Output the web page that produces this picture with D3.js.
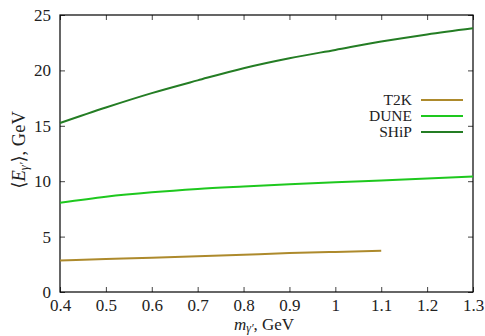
<!DOCTYPE html>
<html>
<head>
<meta charset="utf-8">
<script src="https://cdn.jsdelivr.net/npm/d3@7"></script>
<style>
  body { margin: 0; background: #fff; }
  svg { display: block; }
</style>
</head>
<body>
<svg id="chart" width="485" height="336"></svg>
<script>
// Mean dark-photon energy vs mass for three experiments
const massT2K  = [0.4, 0.5, 0.6, 0.7, 0.8, 0.9, 1.0, 1.1];
const energyT2K = [2.85, 2.98, 3.1, 3.23, 3.37, 3.51, 3.62, 3.72];

const massDUNE  = [0.4, 0.5, 0.6, 0.7, 0.8, 0.9, 1.0, 1.1, 1.2, 1.3];
const energyDUNE = [8.05, 8.6, 9.0, 9.3, 9.52, 9.72, 9.9, 10.07, 10.25, 10.42];

const massSHiP  = [0.4, 0.5, 0.6, 0.7, 0.8, 0.9, 1.0, 1.1, 1.2, 1.3];
const energySHiP = [15.25, 16.65, 17.95, 19.1, 20.2, 21.1, 21.85, 22.6, 23.25, 23.8];

const xTicks = [0.4, 0.5, 0.6, 0.7, 0.8, 0.9, 1.0, 1.1, 1.2, 1.3];
const xTickLabels = ["0.4", "0.5", "0.6", "0.7", "0.8", "0.9", "1", "1.1", "1.2", "1.3"];
const yTicks = [0, 5, 10, 15, 20, 25];

const seriesNames = ["T2K", "DUNE", "SHiP"];
const seriesColors = ["#ad8a2c", "#1ec81e", "#247d24"];

const series = [
  { name: seriesNames[0], color: seriesColors[0], xs: massT2K, ys: energyT2K },
  { name: seriesNames[1], color: seriesColors[1], xs: massDUNE, ys: energyDUNE },
  { name: seriesNames[2], color: seriesColors[2], xs: massSHiP, ys: energySHiP }
];

const FONT = '"Liberation Serif", "DejaVu Serif", serif';
const W = 485, H = 336;
const margin = { left: 60, right: 12, top: 15, bottom: 44 };
const svg = d3.select("#chart");

const x = d3.scaleLinear().domain([0.4, 1.3]).range([margin.left, W - margin.right]);
const y = d3.scaleLinear().domain([0, 25]).range([H - margin.bottom, margin.top]);

const tickLen = 5;
const g = svg.append("g");

// Axes with inward ticks on all four sides
const fmtX = (d, i) => xTickLabels[i];
g.append("g").attr("transform", `translate(0,${y(0)})`)
  .call(d3.axisBottom(x).tickValues(xTicks).tickFormat(fmtX).tickSizeInner(-tickLen).tickSizeOuter(0).tickPadding(7));
g.append("g").attr("transform", `translate(0,${y(25)})`)
  .call(d3.axisTop(x).tickValues(xTicks).tickFormat("").tickSizeInner(-tickLen).tickSizeOuter(0));
g.append("g").attr("transform", `translate(${x(0.4)},0)`)
  .call(d3.axisLeft(y).tickValues(yTicks).tickFormat(d3.format("d")).tickSizeInner(-tickLen).tickSizeOuter(0).tickPadding(9));
g.append("g").attr("transform", `translate(${x(1.3)},0)`)
  .call(d3.axisRight(y).tickValues(yTicks).tickFormat("").tickSizeInner(-tickLen).tickSizeOuter(0));

g.selectAll(".domain").remove();
g.selectAll(".tick line").attr("stroke", "#444").attr("stroke-width", 1);
g.selectAll(".tick text").attr("font-size", 17).style("font-family", FONT).attr("fill", "#222");

// Frame
svg.append("rect")
  .attr("x", x(0.4)).attr("y", y(25))
  .attr("width", x(1.3) - x(0.4)).attr("height", y(0) - y(25))
  .attr("fill", "none").attr("stroke", "#000").attr("stroke-width", 1.2);

// Curves
const line = d3.line().curve(d3.curveMonotoneX);
series.forEach(s => {
  svg.append("path")
    .attr("d", line(s.xs.map((v, i) => [x(v), y(s.ys[i])])))
    .attr("fill", "none")
    .attr("stroke", s.color)
    .attr("stroke-width", 2);
});

// Legend
const legY = [100, 116, 132];
series.forEach((s, i) => {
  svg.append("text")
    .attr("x", 412).attr("y", legY[i] + 5)
    .attr("text-anchor", "end")
    .attr("font-size", 15.5)
    .style("font-family", FONT)
    .attr("fill", "#222")
    .text(s.name);
  svg.append("line")
    .attr("x1", 421).attr("x2", 463)
    .attr("y1", legY[i]).attr("y2", legY[i])
    .attr("stroke", s.color).attr("stroke-width", 2);
});

// Axis titles
const xt = svg.append("text")
  .attr("x", 264).attr("y", 330)
  .attr("text-anchor", "middle")
  .attr("font-size", 17)
  .style("font-family", FONT)
  .attr("fill", "#222");
xt.append("tspan").attr("font-style", "italic").text("m");
xt.append("tspan").attr("font-style", "italic").attr("font-size", 12).attr("dy", 2).text("γ′");
xt.append("tspan").attr("dy", -2).text(", GeV");

const yt = svg.append("text")
  .attr("transform", `translate(25,150) rotate(-90)`)
  .attr("text-anchor", "middle")
  .attr("font-size", 18.5)
  .style("font-family", FONT)
  .attr("fill", "#222");
yt.append("tspan").text("⟨");
yt.append("tspan").attr("font-style", "italic").text("E");
yt.append("tspan").attr("font-style", "italic").attr("font-size", 12.5).attr("dy", 3).text("γ′");
yt.append("tspan").attr("dy", -3).text("⟩, GeV");
</script>
</body>
</html>
